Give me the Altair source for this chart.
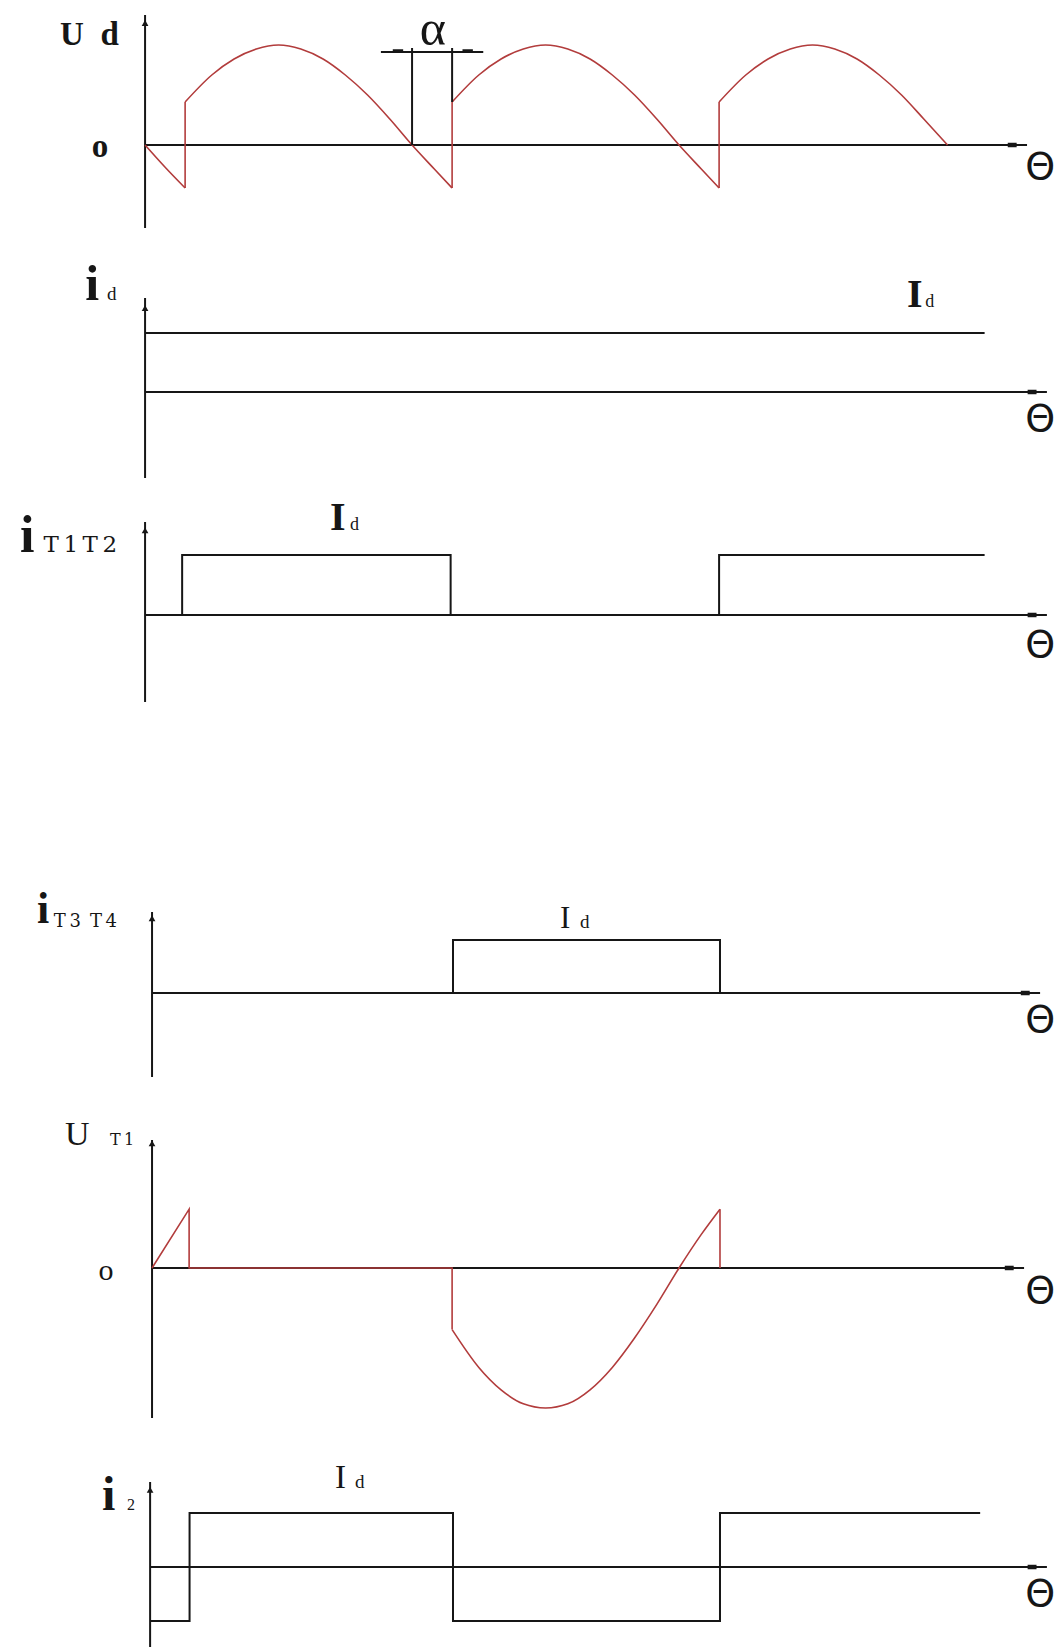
import altair as alt
import pandas as pd

W = 1061
X_DOMAIN = [-97.8, 617.5]          # electrical angle θ in degrees across the page
BLACK = "#161616"
RED = "#b23c3c"

# ---------------- waveform values (θ in degrees) ----------------
# Ud : rectified output voltage, in units of the supply peak
UD_THETA_A = [0, 14, 27]
UD_A = [0.0, -0.23, -0.43]
UD_THETA_B = [27, 45, 60, 75, 90, 105, 120, 135, 150, 165, 180, 195, 207]
UD_B = [0.43, 0.70, 0.86, 0.96, 1.0, 0.96, 0.86, 0.70, 0.50, 0.26, 0.0, -0.24, -0.43]
UD_THETA_C = [207, 225, 240, 255, 270, 285, 300, 315, 330, 345, 360, 375, 387]
UD_C = [0.43, 0.70, 0.86, 0.96, 1.0, 0.96, 0.86, 0.70, 0.50, 0.26, 0.0, -0.24, -0.43]
UD_THETA_D = [387, 405, 420, 435, 450, 465, 480, 495, 510, 525, 541]
UD_D = [0.43, 0.70, 0.86, 0.96, 1.0, 0.96, 0.86, 0.70, 0.50, 0.26, 0.0]
UD_JUMP_THETA = [27, 207, 387]
UD_JUMP_LOW = -0.43
UD_JUMP_HIGH = 0.43

# id : load current, constant Id
ID_LEVEL = 1.0
ID_END = 566

# iT1T2
IT12_THETA_A = [25, 25, 206, 206]
IT12_A = [0, 1, 1, 0]
IT12_THETA_B = [387, 387, 566]
IT12_B = [0, 1, 1]

# iT3T4
IT34_THETA = [207.6, 207.6, 387.6, 387.6]
IT34 = [0, 1, 1, 0]

# uT1 : voltage across thyristor T1
UT1_THETA_A = [4.7, 29.7, 29.7, 207, 207]
UT1_A = [0.0, 0.42, 0.0, 0.0, -0.44]
UT1_THETA_B = [207, 225, 240, 255, 270, 285, 300, 315, 330, 345, 360, 375, 387.6]
UT1_B = [-0.44, -0.71, -0.87, -0.97, -1.0, -0.97, -0.87, -0.71, -0.50, -0.26, 0.0, 0.24, 0.42]
UT1_THETA_C = [387.6, 387.6]
UT1_C = [0.42, 0.0]

# i2 : supply current
I2_THETA = [3.4, 30, 30, 207.6, 207.6, 387.6, 387.6, 563]
I2 = [-1, -1, 1, 1, -1, -1, 1, 1]

XS = alt.Scale(domain=X_DOMAIN, nice=False, zero=False)
THIN = "\u2009"


def ys(dom):
    return alt.Scale(domain=dom, nice=False, zero=False)


def line(thetas, values, dom, color=BLACK, width=2.0, interp="linear"):
    df = pd.DataFrame({"t": thetas, "v": values, "o": list(range(len(thetas)))})
    return alt.Chart(df).mark_line(color=color, strokeWidth=width, interpolate=interp).encode(
        x=alt.X("t:Q", scale=XS, axis=None),
        y=alt.Y("v:Q", scale=ys(dom), axis=None),
        order="o:Q",
    )


def hseg(t1, t2, v, dom, color=BLACK, width=2.0):
    df = pd.DataFrame({"t": [t1], "t2": [t2], "v": [v]})
    return alt.Chart(df).mark_rule(color=color, strokeWidth=width).encode(
        x=alt.X("t:Q", scale=XS, axis=None), x2="t2:Q",
        y=alt.Y("v:Q", scale=ys(dom), axis=None),
    )


def vseg(t, v1, v2, dom, color=BLACK, width=2.0):
    df = pd.DataFrame({"t": t if isinstance(t, list) else [t]})
    df["v"] = v1
    df["v2"] = v2
    return alt.Chart(df).mark_rule(color=color, strokeWidth=width).encode(
        x=alt.X("t:Q", scale=XS, axis=None),
        y=alt.Y("v:Q", scale=ys(dom), axis=None), y2="v2:Q",
    )


def label(text, t, v, dom, size, bold=False, font="Liberation Serif",
          align="left", baseline="alphabetic"):
    df = pd.DataFrame({"t": [t], "v": [v], "s": [text]})
    return alt.Chart(df).mark_text(
        font=font, fontSize=size, fontWeight="bold" if bold else "normal",
        align=align, baseline=baseline, color=BLACK,
    ).encode(
        x=alt.X("t:Q", scale=XS, axis=None),
        y=alt.Y("v:Q", scale=ys(dom), axis=None),
        text="s:N",
    )


def frame(dom, ax_t, v_bot, v_top, v_arrow, h_end, theta_v):
    """Vertical and horizontal axes with their arrow heads and the θ label."""
    arrow = pd.DataFrame({"t": [ax_t], "v": [v_arrow]})
    return [
        vseg(ax_t, v_bot, v_top, dom),
        hseg(ax_t, h_end, 0, dom),
        alt.Chart(arrow).mark_point(shape="triangle-up", filled=True, size=45,
                                    color=BLACK, opacity=1).encode(
            x=alt.X("t:Q", scale=XS, axis=None),
            y=alt.Y("v:Q", scale=ys(dom), axis=None)),
        hseg(h_end - 13, h_end - 7, 0, dom, width=4.5),
        label("Θ", 603.4, theta_v, dom, 38, font="DejaVu Sans",
              align="center", baseline="middle"),
    ]


# ---------------- panel 1 : Ud ----------------
D1 = [-0.95, 1.45]
p1 = alt.layer(
    *frame(D1, 0, -0.83, 1.30, 1.22, 594.6, -0.23),
    line(UD_THETA_A, UD_A, D1, RED, 1.6, "monotone"),
    line(UD_THETA_B, UD_B, D1, RED, 1.6, "monotone"),
    line(UD_THETA_C, UD_C, D1, RED, 1.6, "monotone"),
    line(UD_THETA_D, UD_D, D1, RED, 1.6, "monotone"),
    vseg(UD_JUMP_THETA, UD_JUMP_LOW, UD_JUMP_HIGH, D1, RED, 1.6),
    # firing-angle marker
    hseg(159, 228, 0.93, D1),
    vseg(180, 0, 0.97, D1),
    vseg(207, 0.43, 0.97, D1),
    hseg(167, 174, 0.94, D1, width=3.5),
    hseg(214, 221, 0.94, D1, width=3.5),
    label("α", 194, 1.0, D1, 50, align="center"),
    label("U\u2002d", -57.3, 1.0, D1, 33, bold=True),
    label("o", -30.3, -0.12, D1, 33, bold=True, align="center"),
).properties(width=W, height=240)

# ---------------- panel 2 : id ----------------
D2 = [-1.661, 2.576]
p2 = alt.layer(
    *frame(D2, 0, -1.458, 1.593, 1.42, 608, -0.475),
    hseg(0, ID_END, ID_LEVEL, D2),
    label("i", -40.4, 1.559, D2, 50, bold=True),
    label("d", -25.6, 1.559, D2, 19),
    label("I", 513.7, 1.441, D2, 40, bold=True),
    label("d", 525.9, 1.441, D2, 18),
).properties(width=W, height=250)

# ---------------- panel 3 : iT1T2 ----------------
D3 = [-1.75, 2.083]
p3 = alt.layer(
    *frame(D3, 0, -1.45, 1.55, 1.41, 608, -0.517),
    line(IT12_THETA_A, IT12_A, D3),
    line(IT12_THETA_B, IT12_B, D3),
    label("i", -84.3, 1.05, D3, 52, bold=True),
    label(THIN.join("T1T2"), -68.5, 1.05, D3, 23, font="DejaVu Serif"),
    label("I", 124.7, 1.417, D3, 40, bold=True),
    label("d", 138.2, 1.417, D3, 18),
).properties(width=W, height=230)

# ---------------- panel 4 : iT3T4 ----------------
D4 = [-1.830, 5.151]
p4 = alt.layer(
    *frame(D4, 4.7, -1.585, 1.528, 1.41, 603.4, -0.528),
    line(IT34_THETA, IT34, D4),
    label("i", -72.8, 1.321, D4, 44, bold=True),
    label("T" + THIN + "3\u2002T" + THIN + "4", -61.5, 1.245, D4, 18, font="DejaVu Serif"),
    label("I", 279.8, 1.226, D4, 31),
    label("d", 293.3, 1.226, D4, 19),
).properties(width=W, height=370)

# ---------------- panel 5 : uT1 ----------------
D5 = [-1.157, 1.271]
p5 = alt.layer(
    *frame(D5, 4.7, -1.071, 0.914, 0.89, 592.6, -0.171),
    line(UT1_THETA_A, UT1_A, D5, RED, 1.6),
    line(UT1_THETA_B, UT1_B, D5, RED, 1.6, "monotone"),
    line(UT1_THETA_C, UT1_C, D5, RED, 1.6),
    label("U", -53.9, 0.879, D5, 34),
    label("T" + THIN + "1", -23.6, 0.879, D5, 16, font="DejaVu Serif"),
    label("o", -26.3, -0.086, D5, 30, align="center"),
).properties(width=W, height=340)

# ---------------- panel 6 : i2 ----------------
D6 = [-1.481, 2.537]
p6 = alt.layer(
    *frame(D6, 3.4, -1.481, 1.574, 1.43, 608, -0.519),
    line(I2_THETA, I2, D6),
    label("i", -29.0, 1.056, D6, 48, bold=True),
    label("2", -12.1, 1.056, D6, 16),
    label("I", 128.1, 1.463, D6, 33),
    label("d", 141.6, 1.463, D6, 19),
).properties(width=W, height=217)

chart = alt.vconcat(p1, p2, p3, p4, p5, p6, spacing=0, bounds="flush").configure(
    padding=0, background="white"
).configure_view(stroke=None)

chart.save("out.html", embed_options={"renderer": "svg", "actions": False})
